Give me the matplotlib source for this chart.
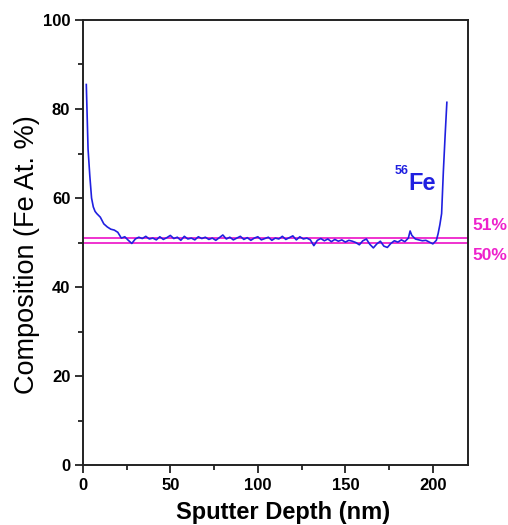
"""Fe depth profile: composition vs sputter depth."""

import matplotlib
matplotlib.use("Agg")
import matplotlib.pyplot as plt
from matplotlib.ticker import MultipleLocator

# sputter depth (nm) and Fe composition (at. %)
depth = [2, 3, 4, 5, 6, 7, 8, 10, 12, 14, 16, 18, 20, 22, 24, 26, 28,
         30, 32, 34, 36, 38, 40, 42, 44, 46, 48, 50, 52, 54, 56, 58, 60,
         62, 64, 66, 68, 70, 72, 74, 76, 78, 80, 82, 84, 86, 88, 90, 92,
         94, 96, 98, 100, 102, 104, 106, 108, 110, 112, 114, 116, 118, 120,
         122, 124, 126, 128, 130, 132, 134, 136, 138, 140, 142, 144, 146,
         148, 150, 152, 154, 156, 158, 160, 162, 164, 166, 168, 170, 172,
         174, 176, 178, 180, 182, 184, 186, 187, 188, 190, 192, 194, 196,
         198, 200, 202, 203, 204, 205, 206, 207, 208]
fe_comp = [85.5, 71.0, 65.0, 60.0, 58.0, 57.0, 56.5, 55.7, 54.2, 53.5, 53.0,
           52.8, 52.3, 51.0, 51.3, 50.5, 49.8,
           50.8, 51.2, 50.9, 51.4, 50.8, 51.0, 50.6, 51.3, 50.7, 51.1, 51.6,
           50.9, 51.2, 50.5, 51.4, 50.8, 51.0, 50.6, 51.3, 50.9, 51.2, 50.7,
           51.0, 50.5, 51.1, 51.7, 50.8, 51.2, 50.6, 51.0, 51.4, 50.7, 51.1,
           50.5, 51.0, 51.3, 50.6, 50.9, 51.2, 50.5, 51.0, 50.8, 51.4, 50.7,
           51.1, 51.5, 50.6, 51.3, 50.8, 51.0, 50.6, 49.3, 50.5, 50.9, 50.4,
           50.8, 50.2, 50.7, 50.3, 50.6, 50.1, 50.5, 50.3, 50.0, 49.5, 50.4,
           50.8, 49.6, 48.8, 49.7, 50.3, 49.2, 48.9, 49.8, 50.4, 50.1, 50.6,
           50.2, 51.0, 52.6, 51.6, 50.8, 50.6, 50.4, 50.5, 50.1, 49.7, 50.5,
           52.0, 54.0, 56.5, 66.0, 74.0, 81.5]

ref_levels = [51, 50]
ref_labels = ["51%", "50%"]

BLUE = "#2020e0"
MAGENTA = "#ee22cc"

plt.rcParams["font.family"] = ["Liberation Sans", "DejaVu Sans"]

fig = plt.figure(figsize=(5.08, 5.25), dpi=100)
ax = fig.add_axes([0.163, 0.114, 0.758, 0.848])

for lvl in ref_levels:
    ax.axhline(lvl, color=MAGENTA, lw=1.3)
ax.plot(depth, fe_comp, color=BLUE, lw=1.2)

ax.set_xlim(0, 220)
ax.set_ylim(0, 100)
ax.xaxis.set_major_locator(MultipleLocator(50))
ax.xaxis.set_minor_locator(MultipleLocator(25))
ax.yaxis.set_major_locator(MultipleLocator(20))
ax.yaxis.set_minor_locator(MultipleLocator(10))
ax.tick_params(which="major", direction="out", length=6, width=1.3,
               labelsize=12, pad=3, color="#222222")
ax.tick_params(which="minor", direction="out", length=3.5, width=1.3,
               color="#222222")
ax.tick_params(top=False, right=False)
for lab in ax.get_xticklabels() + ax.get_yticklabels():
    lab.set_fontweight("bold")
for sp in ax.spines.values():
    sp.set_linewidth(1.4)
    sp.set_color("#222222")

ax.set_xlabel("Sputter Depth (nm)", fontsize=17, fontweight="bold")
ax.set_ylabel("Composition (Fe At. %)", fontsize=19.5)
# labels sit a bit off-centre in the original
ax.xaxis.set_label_coords(0.52, -0.08)
ax.yaxis.set_label_coords(-0.112, 0.474)

# isotope label
ax.text(186, 61.8, "Fe", color=BLUE, fontsize=17, fontweight="bold",
        ha="left", va="baseline")
ax.text(178, 64.8, "56", color=BLUE, fontsize=9, fontweight="bold",
        ha="left", va="bottom")

# reference level labels outside the right spine
ax.text(222.5, 53.9, ref_labels[0], color=MAGENTA, fontsize=12.5,
        fontweight="bold", ha="left", va="center", clip_on=False)
ax.text(222.5, 47.2, ref_labels[1], color=MAGENTA, fontsize=12.5,
        fontweight="bold", ha="left", va="center", clip_on=False)

fig.savefig("out.png", dpi=100)
